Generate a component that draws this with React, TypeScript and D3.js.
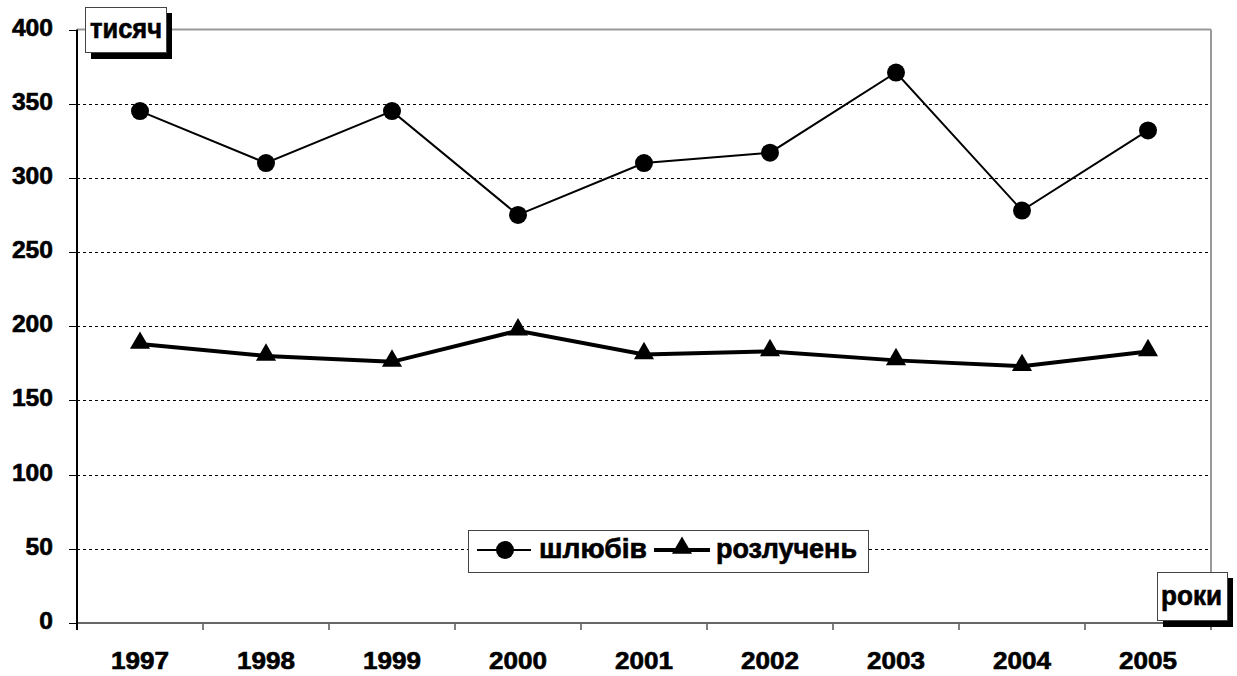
import React from "react";
import * as d3 from "d3";

const years = ["1997", "1998", "1999", "2000", "2001", "2002", "2003", "2004", "2005"];
const marriages = [345, 310, 345, 275, 310, 317, 371, 278, 332];
const divorces = [188, 180, 176, 197, 181, 183, 177, 173, 183];
const yTicks = [0, 50, 100, 150, 200, 250, 300, 350, 400];

const W = 1237, H = 676;
const L = 77, R = 1211, T = 29.5, B = 623;
const FONT = "'Liberation Sans', Arial, sans-serif";

export default function App() {
  const x = d3.scaleBand<string>().domain(years).range([L, R]).padding(0);
  const y = d3.scaleLinear().domain([0, 400]).range([B, T]);
  const cx = (d: string) => (x(d) as number) + x.bandwidth() / 2;
  const line = d3.line<number>().x((_, i) => cx(years[i])).y((v) => y(v));
  const tri = d3.symbol().type(d3.symbolTriangle).size(175)();
  const boundaries = d3.range(years.length + 1).map((i) => L + i * x.bandwidth());
  const heavy = { stroke: "#000", strokeWidth: 0.6 } as const;

  return (
    <svg width={W} height={H} style={{ position: "absolute", left: 0, top: 0, background: "#fff" }} fontFamily={FONT}>
      {/* gridlines */}
      {yTicks.filter((t) => t > 0 && t < 400).map((t) => (
        <line key={t} x1={L} x2={R} y1={Math.round(y(t)) + 0.5} y2={Math.round(y(t)) + 0.5} stroke="#000" strokeWidth={1} strokeDasharray="3,3" />
      ))}
      {/* frame */}
      <line x1={L} x2={R} y1={T} y2={T} stroke="#999" strokeWidth={2} />
      <line x1={R} x2={R} y1={T} y2={B} stroke="#999" strokeWidth={2} />
      {/* y ticks */}
      {yTicks.map((t) => {
        const s = String(t);
        return (
          <g key={t}>
            <line x1={69} x2={L} y1={Math.round(y(t)) + 0.5} y2={Math.round(y(t)) + 0.5} stroke="#000" strokeWidth={1} />
            <text x={53} y={y(t) + 6} textAnchor="end" fontSize={23} fontWeight="bold" {...heavy}
              textLength={s.length * 13.7} lengthAdjust="spacingAndGlyphs">{s}</text>
          </g>
        );
      })}
      {/* x ticks */}
      {boundaries.map((b, i) => (
        <line key={i} x1={b} x2={b} y1={B} y2={B + 7} stroke="#000" strokeWidth={1} />
      ))}
      {years.map((yr) => (
        <text key={yr} x={cx(yr) - 29} y={669} fontSize={23} fontWeight="bold" {...heavy}
          textLength={58} lengthAdjust="spacingAndGlyphs">{yr}</text>
      ))}
      {/* axes */}
      <line x1={L} x2={R} y1={B} y2={B} stroke="#666" strokeWidth={2} />
      <line x1={L} x2={L} y1={T} y2={B + 7} stroke="#000" strokeWidth={2} />
      {/* series */}
      <path d={line(marriages) || ""} fill="none" stroke="#000" strokeWidth={2} />
      {marriages.map((v, i) => (
        <circle key={i} cx={cx(years[i])} cy={y(v)} r={9} fill="#000" />
      ))}
      <path d={line(divorces) || ""} fill="none" stroke="#000" strokeWidth={4} />
      {divorces.map((v, i) => (
        <path key={i} d={tri || ""} transform={`translate(${cx(years[i])},${y(v) - 1})`} fill="#000" />
      ))}
      {/* тисяч label */}
      <rect x={91} y={13} width={81} height={46} fill="#000" />
      <rect x={85.5} y={7.5} width={81} height={45} fill="#fff" stroke="#444" strokeWidth={1} />
      <text x={90} y={38} fontSize={27} fontWeight="bold" {...heavy} textLength={72} lengthAdjust="spacingAndGlyphs">тисяч</text>
      {/* роки label */}
      <rect x={1163} y={578} width={70} height={49} fill="#000" />
      <rect x={1157.5} y={572.5} width={70} height={48} fill="#fff" stroke="#444" strokeWidth={1} />
      <text x={1161} y={605} fontSize={27} fontWeight="bold" {...heavy} textLength={61} lengthAdjust="spacingAndGlyphs">роки</text>
      {/* legend */}
      <rect x={468.5} y={530.5} width={400} height={42} fill="#fff" stroke="#444" strokeWidth={1} />
      <line x1={477} x2={531} y1={550} y2={550} stroke="#000" strokeWidth={2} />
      <circle cx={505} cy={550} r={9} fill="#000" />
      <text x={539} y={558} fontSize={27} fontWeight="bold" {...heavy} textLength={108} lengthAdjust="spacingAndGlyphs">шлюбів</text>
      <line x1={654} x2={710} y1={550} y2={550} stroke="#000" strokeWidth={4} />
      <path d={tri || ""} transform={`translate(${682},${548})`} fill="#000" />
      <text x={716} y={558} fontSize={27} fontWeight="bold" {...heavy} textLength={141} lengthAdjust="spacingAndGlyphs">розлучень</text>
    </svg>
  );
}
